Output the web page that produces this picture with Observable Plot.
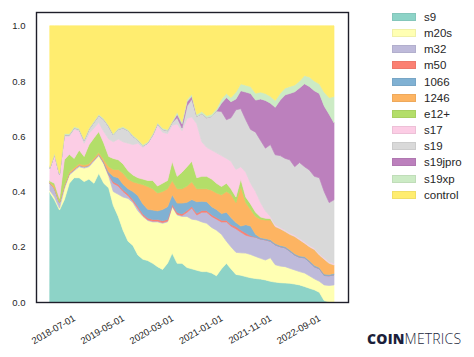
<!DOCTYPE html>
<html><head><meta charset="utf-8">
<script src="https://cdn.jsdelivr.net/npm/d3@7"></script>
<script src="https://cdn.jsdelivr.net/npm/@observablehq/plot@0.6"></script>
<style>
body{margin:0;background:#fff;}
#wrap{position:relative;width:474px;height:357px;font-family:"Liberation Sans",Arial,sans-serif;overflow:hidden;}
#chart{position:absolute;left:0;top:0;}
#legend{position:absolute;left:392px;top:8.7px;}
.row{display:flex;align-items:center;height:16.2px;}
.sw{width:24px;height:8px;margin-right:8px;box-sizing:border-box;border:1px solid rgba(0,0,0,0.06);}
.lab{font-size:11.5px;color:#262626;line-height:12px;}
#logo{position:absolute;left:367px;top:329px;font-family:"Open Sans",Lato,sans-serif;font-size:14px;color:#1b1f3b;letter-spacing:0.2px;}
#logo b{font-weight:800;}
#logo span{font-weight:300;}
</style></head><body>
<div id="wrap"><div id="chart"></div><div id="legend"></div><div id="logo"><b>COIN</b><span>METRICS</span></div></div>
<script>
const months = ["2018-02","2018-03","2018-04","2018-05","2018-06","2018-07","2018-08","2018-09","2018-10","2018-11","2018-12",
"2019-01","2019-02","2019-03","2019-04","2019-05","2019-06","2019-07","2019-08","2019-09","2019-10","2019-11","2019-12",
"2020-01","2020-02","2020-03","2020-04","2020-05","2020-06","2020-07","2020-08","2020-09","2020-10","2020-11","2020-12",
"2021-01","2021-02","2021-03","2021-04","2021-05","2021-06","2021-07","2021-08","2021-09","2021-10","2021-11","2021-12",
"2022-01","2022-02","2022-03","2022-04","2022-05","2022-06","2022-07","2022-08","2022-09","2022-10","2022-11","2022-12"];

const seriesNames = ["s9","m20s","m32","m50","1066","1246","e12+","s17","s19","s19jpro","s19xp","control"];
const colors = ["#8dd3c7","#ffffb3","#bebada","#fb8072","#80b1d3","#fdb462","#b3de69","#fccde5","#d9d9d9","#bc80bd","#ccebc5","#ffed6f"];

const s9 = [.395,.37,.333,.37,.43,.45,.45,.436,.445,.43, .466,.43,.413,.35,.31,.26,.22,.205,.17,.155, .15,.14,.128,.118,.14,.177,.14,.14,.125,.12, .115,.11,.11,.105,.095,.12,.14,.12,.10,.097, .092,.088,.085,.083,.08,.075,.072,.07,.069,.068, .065,.062,.056,.05,.044,.035,.005,0,0];
const m20s = [.008,.01,.007,.04,.03,.025,.04,.049,.045,.08, .064,.07,.042,.05,.08,.12,.155,.155,.16,.155, .145,.15,.162,.167,.15,.168,.175,.17,.185,.18, .182,.18,.175,.165,.165,.125,.08,.08,.08,.081, .085,.084,.08,.075,.072,.085,.063,.06,.059,.054, .051,.048,.049,.045,.04,.04,.057,.06,.062];
const m32 = [.027,.03,.02,.01,.005,.005,.005,.005,.005,.005, .005,.005,.005,.03,.03,.02,.01,.005,.01,.003, .003,.003,.003,.003,.003,.003,.003,.003,.015,.04, .018,.035,.04,.04,.04,.045,.07,.075,.085,.075, .065,.065,.07,.07,.073,.06,.072,.07,.068,.062, .054,.052,.055,.05,.044,.045,.034,.035,.036];
const m50 = [0,0,0,0,0,0,0,0,0,0, 0,0,.003,.005,.006,.006,.006,.006,.006,.006, .006,.006,.006,.006,.006,.006,.006,.006,.006,.006, .006,.006,.006,.006,.006,.006,.006,.006,.008,.008, .008,.003,0,0,0,0,0,0,0,0, 0,0,0,0,0,0,0,0,0];
const a1066 = [0,0,0,0,0,0,0,0,0,0, 0,.003,.007,.02,.024,.02,.019,.029,.039,.036, .032,.034,.031,.041,.046,.034,.034,.039,.03,.025, .042,.034,.032,.029,.029,.024,.029,.025,.015,.014, .03,.035,.01,.005,.005,.005,.005,.005,.005,.005, .005,.005,.005,.005,.005,.005,.005,.005,.005];
const a1246 = [.003,.01,.003,.005,.006,.006,.006,.006,.006,.006, .006,.008,.02,.025,.03,.04,.035,.035,.045,.07, .082,.077,.065,.065,.065,.052,.052,.052,.059,.064, .047,.045,.047,.06,.06,.068,.075,.084,.072,.143, .08,.06,.065,.067,.067,.072,.061,.06,.054,.056, .062,.058,.048,.05,.057,.045,.054,.04,.031];
const e12 = [.005,.01,.012,.09,.064,.034,.049,.031,.068,.073, .076,.06,.037,.04,.035,.034,.03,.025,.02,.02, .022,.03,.025,.03,.03,.07,.045,.06,.07,.075, .04,.045,.045,.04,.035,.03,.03,.02,.02,.027, .02,.02,.015,.008,.006,.005,0,0,0,0, 0,0,0,0,0,0,0,0,0];
const s17 = [.047,.105,.087,.085,.065,.105,.07,.048,.041,.036, .033,.041,.063,.06,.075,.08,.10,.11,.125,.115, .135,.16,.22,.185,.17,.13,.19,.15,.175,.16, .195,.125,.105,.105,.11,.112,.09,.10,.10,.045, .09,.075,.075,.052,.027,.008,.007,.005,.005,.005, .005,.005,.005,.005,.005,.005,.005,.005,.005];
const s19 = [0,0,0,.005,.005,.005,.005,.01,.015,.02, .025,.043,.045,.025,.035,.05,.045,.03,.01,.005, 0,.005,.005,.01,.01,.01,.023,.01,.045,.065, .027,.102,.107,.122,.152,.16,.14,.157,.216,.21, .19,.195,.215,.225,.227,.26,.253,.26,.26,.265, .248,.275,.272,.273,.26,.275,.24,.215,.231];
const s19jpro = [0,0,0,0,0,0,0,0,0,0, 0,0,0,0,0,0,0,0,0,0, 0,0,0,0,0,0,.012,.015,.015,.01, 0,0,0,0,0,.03,.08,.058,.039,.065, .10,.13,.116,.15,.173,.15,.172,.201,.23,.24, .271,.27,.30,.302,.31,.305,.31,.32,.279];
const s19xp = [.005,.005,.005,.005,.005,.005,.005,.005,.005,.005, .005,.005,.005,.005,.005,.005,.005,.005,.005,.005, .005,.005,.005,.005,.005,.005,.008,.008,.008,.008, .008,.008,.008,.008,.008,.015,.015,.015,.025,.025, .025,.025,.025,.025,.025,.025,.025,.025,.025,.025, .025,.025,.03,.035,.035,.035,.05,.06,.095];
const control = [.51,.46,.533,.39,.39,.365,.37,.41,.37,.345, .32,.335,.36,.39,.37,.365,.375,.395,.41,.43, .42,.39,.35,.37,.375,.345,.312,.347,.267,.247, .32,.31,.325,.32,.30,.265,.245,.26,.24,.21, .215,.22,.244,.24,.245,.255,.27,.244,.225,.22, .214,.20,.18,.185,.20,.21,.24,.26,.256];

const seriesValues = [s9,m20s,m32,m50,a1066,a1246,e12,s17,s19,s19jpro,s19xp,control];

const xTickDates = ["2018-07-01","2019-05-01","2020-03-01","2021-01-01","2021-11-01","2022-09-01"];
const yTicks = [0,0.2,0.4,0.6,0.8,1.0];

const data = [];
months.forEach((m,i) => {
  seriesNames.forEach((s,k) => data.push({date: new Date(m + "-01T00:00:00Z"), series: s, value: seriesValues[k][i]}));
});
const tickDates = xTickDates.map(d => new Date(d + "T00:00:00Z"));
const labelMap = new Map(tickDates.map((d,i) => [+d, xTickDates[i]]));

const chart = Plot.plot({
  width: 474, height: 357,
  marginLeft: 36, marginRight: 126, marginTop: 12, marginBottom: 55,
  style: {fontFamily: "'Liberation Sans', Arial, sans-serif", fontSize: "9.5px", color: "#262626", background: "white"},
  x: {type: "utc", insetLeft: 14, insetRight: 14},
  y: {domain: [0, 1.05]},
  color: {domain: seriesNames, range: colors},
  marks: [
    Plot.areaY(data, {x: "date", y: "value", z: "series", fill: "series", stroke: "series", strokeWidth: 0.7, order: seriesNames}),
    Plot.frame({stroke: "#1e1e2a", strokeWidth: 1.4}),
    Plot.axisY({ticks: yTicks, tickFormat: d3.format(".1f"), tickSize: 0, tickPadding: 11, label: null}),
    Plot.axisX({ticks: tickDates, tickFormat: d => labelMap.get(+d), tickSize: 0, tickPadding: 15, tickRotate: -30, label: null})
  ]
});
document.getElementById("chart").appendChild(chart);

const legend = document.getElementById("legend");
seriesNames.forEach((s,k) => {
  const row = document.createElement("div");
  row.className = "row";
  const sw = document.createElement("div");
  sw.className = "sw";
  sw.style.background = colors[k];
  const lab = document.createElement("div");
  lab.className = "lab";
  lab.textContent = s;
  row.appendChild(sw); row.appendChild(lab);
  legend.appendChild(row);
});
</script>
</body></html>
